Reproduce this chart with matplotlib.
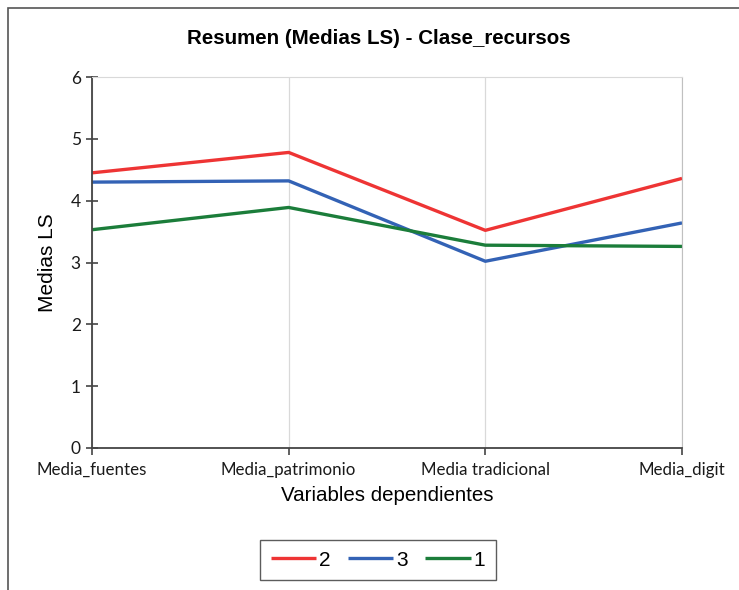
import matplotlib
matplotlib.use("Agg")
import matplotlib.pyplot as plt
from matplotlib.patches import Rectangle

# data
categories = ["Media_fuentes", "Media_patrimonio", "Media tradicional", "Media_digit"]
series_names = ["2", "3", "1"]
values_2 = [4.45, 4.78, 3.52, 4.36]
values_3 = [4.30, 4.32, 3.02, 3.64]
values_1 = [3.53, 3.89, 3.28, 3.26]
colors = ["#EE3434", "#3362B5", "#1B7D3A"]
y_ticks = [0, 1, 2, 3, 4, 5, 6]


def draw_chart():
    fig = plt.figure(figsize=(7.39, 5.9), dpi=100)
    # outer chart frame (right/bottom edges fall outside the image)
    fig.patches.append(Rectangle((8 / 739, -0.05), 1.1, 1 - 8 / 590 + 0.05,
                                 transform=fig.transFigure, fill=False,
                                 edgecolor="#555555", linewidth=1.2))
    ax = fig.add_axes([92 / 739, 1 - 448 / 590, (682 - 92) / 739, (448 - 77) / 590])

    x = list(range(len(categories)))
    for vals, name, col in zip([values_2, values_3, values_1], series_names, colors):
        ax.plot(x, vals, color=col, linewidth=2.4, label=name, solid_capstyle="butt")

    ax.set_xlim(0, len(categories) - 1)
    ax.set_ylim(0, 6)
    ax.set_yticks(y_ticks)
    ax.set_xticks(x)
    ax.set_xticklabels(categories, family="Lato", fontsize=12.2, color="#1A1A1A")
    for lab in ax.get_yticklabels():
        lab.set_family("Lato")
        lab.set_fontsize(12.5)
        lab.set_color("#1A1A1A")

    # vertical gridlines only
    ax.xaxis.grid(True, color="#D9D9D9", linewidth=0.9)
    ax.set_axisbelow(True)
    ax.spines["top"].set_color("#D9D9D9")
    ax.spines["right"].set_color("#C0C0C0")
    ax.spines["left"].set_color("#444444")
    ax.spines["bottom"].set_color("#444444")
    ax.spines["left"].set_linewidth(1.3)
    ax.spines["bottom"].set_linewidth(1.3)
    ax.tick_params(axis="y", direction="inout", length=8, width=1.2, color="#444444", pad=4)
    ax.tick_params(axis="x", direction="out", length=5, width=1.2, color="#444444", pad=5)

    ax.set_ylabel("Medias LS", family="Liberation Sans", fontsize=15, labelpad=10)
    ax.set_xlabel("Variables dependientes", family="Liberation Sans", fontsize=14.8, labelpad=6)
    fig.text(379 / 739, 1 - 38 / 590, "Resumen (Medias LS) - Clase_recursos",
             ha="center", va="center", family="Liberation Sans",
             fontsize=14.8, fontweight="bold")

    leg = fig.legend(loc="center", bbox_to_anchor=(378 / 739, 1 - 560 / 590), ncol=3,
                     frameon=True, fancybox=False, edgecolor="#333333",
                     prop={"family": "Liberation Sans", "size": 15},
                     handlelength=2.2, handletextpad=0.15, columnspacing=0.8,
                     borderpad=0.5)
    leg.get_frame().set_linewidth(1.0)

    fig.savefig("out.png", dpi=100)


if __name__ == '__main__':
    draw_chart()
